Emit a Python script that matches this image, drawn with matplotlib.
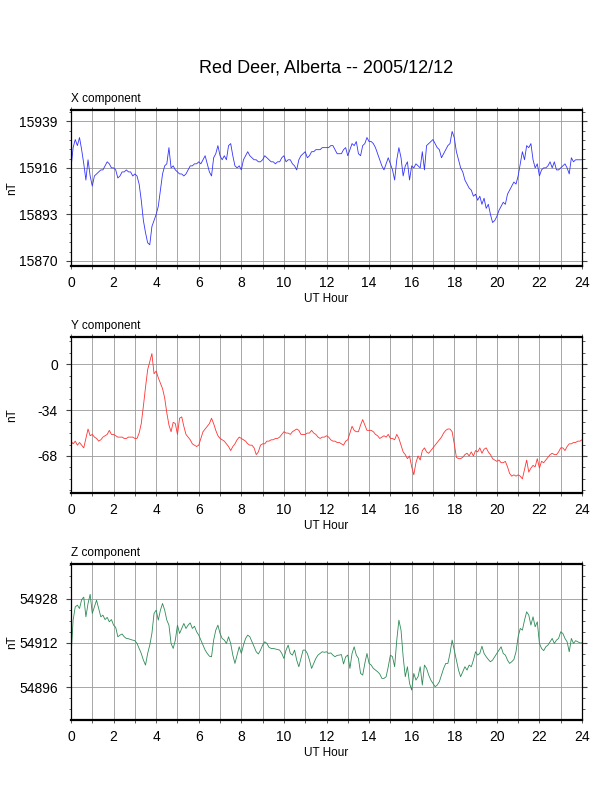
import numpy as np
import matplotlib
matplotlib.use("Agg")
import matplotlib.pyplot as plt
from matplotlib.ticker import MultipleLocator

plt.rcParams["font.family"] = ["Liberation Sans", "DejaVu Sans"]

# magnetometer readings, one value every 0.1 UT hour
hours = np.linspace(0, 24, 241)

x_comp = [
    15916, 15926, 15930, 15927, 15931, 15925, 15918, 15910, 15920, 15912,
    15907, 15912, 15913, 15914, 15915, 15915, 15917, 15919, 15918, 15916,
    15916, 15915, 15911, 15912, 15914, 15914, 15915, 15914, 15914, 15912,
    15913, 15912, 15908, 15900, 15890, 15884, 15879, 15878, 15887, 15890,
    15893, 15897, 15905, 15913, 15917, 15918, 15926, 15916, 15917, 15915,
    15914, 15913, 15913, 15912, 15913, 15915, 15917, 15917, 15918, 15918,
    15919, 15918, 15920, 15922, 15918, 15914, 15912, 15921, 15923, 15927,
    15922, 15920, 15922, 15920, 15927, 15928, 15922, 15917, 15916, 15917,
    15915, 15920, 15922, 15924, 15922, 15921, 15920, 15920, 15919, 15919,
    15920, 15922, 15921, 15920, 15919, 15919, 15918, 15919, 15919, 15921,
    15922, 15919, 15920, 15920, 15918, 15917, 15915, 15920, 15922, 15923,
    15924, 15921, 15922, 15924, 15924, 15925, 15925, 15925, 15926, 15926,
    15926, 15926, 15927, 15927, 15925, 15923, 15923, 15923, 15925, 15926,
    15922, 15925, 15928, 15927, 15929, 15923, 15922, 15927, 15928, 15931,
    15929, 15929, 15928, 15926, 15923, 15920, 15917, 15915, 15918, 15921,
    15918, 15915, 15910, 15920, 15926, 15921, 15912, 15917, 15919, 15910,
    15917, 15916, 15918, 15917, 15916, 15924, 15915, 15927, 15928, 15929,
    15930, 15928, 15926, 15925, 15921, 15923, 15925, 15927, 15928, 15934,
    15931, 15924, 15920, 15916, 15914, 15910, 15908, 15906, 15905, 15902,
    15903, 15900, 15902, 15898, 15901, 15896, 15898, 15893, 15889, 15890,
    15892, 15895, 15897, 15899, 15898, 15903, 15905, 15907, 15909, 15908,
    15912, 15918, 15924, 15920, 15927, 15926, 15928, 15920, 15916, 15918,
    15912, 15915, 15916, 15916, 15917, 15919, 15916, 15919, 15915, 15915,
    15916, 15917, 15918, 15916, 15913, 15921, 15919, 15920, 15920, 15920,
    15920,
]

y_comp = [
    -57, -59, -57, -60, -58, -60, -62, -55, -48, -53,
    -52, -54, -55, -57, -56, -54, -53, -52, -49, -52,
    -52, -53, -54, -54, -54, -55, -55, -54, -54, -54,
    -55, -55, -51, -44, -31, -17, -4, 2, 8, -7,
    -5, -10, -14, -18, -25, -36, -45, -50, -43, -44,
    -52, -40, -39, -46, -52, -54, -56, -59, -60, -61,
    -60, -55, -50, -48, -46, -44, -40, -44, -49, -53,
    -55, -56, -57, -59, -61, -64, -61, -59, -56, -54,
    -55, -56, -57, -59, -60, -60, -62, -67, -65, -60,
    -59, -59, -57, -57, -56, -56, -55, -55, -54, -52,
    -50, -51, -51, -52, -50, -49, -48, -49, -52, -52,
    -52, -51, -51, -49, -51, -52, -54, -55, -54, -54,
    -53, -54, -56, -57, -57, -58, -58, -59, -60, -57,
    -56, -51, -46, -49, -50, -50, -45, -41, -45, -49,
    -49, -49, -50, -52, -53, -55, -54, -53, -54, -52,
    -55, -55, -56, -52, -55, -60, -65, -67, -70, -68,
    -76, -82, -73, -68, -71, -64, -62, -65, -66, -64,
    -62, -60, -58, -56, -54, -51, -49, -48, -48, -50,
    -59, -69, -70, -70, -69, -67, -66, -68, -65, -68,
    -64, -65, -62, -66, -63, -62, -65, -67, -70, -71,
    -72, -71, -73, -73, -72, -76, -81, -83, -82, -83,
    -82, -83, -85, -78, -71, -80, -77, -75, -76, -70,
    -77, -72, -73, -71, -69, -67, -66, -67, -67, -65,
    -62, -62, -64, -61, -59, -59, -58, -58, -57, -57,
    -56,
]

z_comp = [
    54907.0, 54920.2, 54925.0, 54925.6, 54924.4, 54927.6, 54928.5, 54921.4, 54926.2, 54929.5,
    54922.6, 54925.0, 54927.4, 54924.4, 54921.4, 54922.0, 54920.4, 54921.2, 54919.6, 54920.4,
    54918.4, 54917.6, 54914.2, 54914.8, 54915.2, 54914.2, 54913.6, 54913.5, 54913.2, 54913.0,
    54912.8, 54911.8, 54910.0, 54908.2, 54905.8, 54904.0, 54908.2, 54911.2, 54915.4, 54922.6,
    54923.8, 54920.2, 54923.8, 54926.2, 54923.8, 54920.2, 54918.4, 54911.8, 54910.0, 54913.0,
    54918.4, 54915.4, 54917.2, 54919.0, 54917.2, 54918.4, 54919.2, 54917.2, 54918.0, 54916.0,
    54914.8, 54913.0, 54911.2, 54909.4, 54908.2, 54907.2, 54907.0, 54913.0, 54916.6, 54918.4,
    54915.4, 54913.6, 54913.0, 54911.8, 54914.2, 54911.8, 54907.6, 54904.6, 54907.6, 54910.6,
    54908.2, 54911.2, 54913.6, 54914.8, 54914.2, 54912.4, 54910.6, 54908.8, 54908.0, 54909.4,
    54911.2, 54912.4, 54911.8, 54910.4, 54910.0, 54910.0, 54909.8, 54909.6, 54909.4, 54908.2,
    54906.4, 54909.4, 54911.2, 54908.2, 54907.6, 54909.4, 54905.8, 54903.4, 54906.4, 54909.4,
    54909.4, 54908.2, 54905.8, 54902.8, 54904.6, 54906.4, 54907.6, 54908.2, 54908.8, 54908.6,
    54908.8, 54908.2, 54908.4, 54907.6, 54907.0, 54907.5, 54907.6, 54907.8, 54904.4, 54907.0,
    54907.6, 54902.8, 54908.2, 54910.6, 54907.6, 54906.4, 54901.0, 54900.4, 54904.6, 54908.2,
    54904.6, 54904.0, 54902.8, 54902.2, 54901.6, 54900.8, 54899.2, 54899.2, 54899.8, 54903.4,
    54907.6, 54907.0, 54903.4, 54913.0, 54920.2, 54916.6, 54907.0, 54899.8, 54903.4, 54897.4,
    54895.0, 54901.0, 54898.6, 54899.8, 54903.4, 54896.8, 54904.0, 54902.8, 54900.4, 54898.6,
    54897.4, 54896.2, 54896.8, 54898.0, 54900.4, 54902.8, 54904.6, 54904.6, 54908.2, 54913.0,
    54909.4, 54905.8, 54902.2, 54899.8, 54901.6, 54903.4, 54902.2, 54904.0, 54903.4, 54905.8,
    54908.8, 54907.6, 54908.2, 54910.8, 54908.2, 54907.0, 54906.0, 54905.2, 54905.8, 54907.0,
    54908.2, 54909.4, 54910.6, 54908.2, 54907.6, 54905.8, 54904.6, 54905.2, 54906.0, 54908.8,
    54914.2, 54917.2, 54916.6, 54920.2, 54923.2, 54922.0, 54918.4, 54921.4, 54917.8, 54919.6,
    54911.8, 54910.0, 54909.2, 54910.6, 54911.2, 54912.4, 54913.6, 54911.8, 54913.0, 54913.6,
    54916.0, 54915.4, 54913.6, 54912.4, 54908.8, 54913.6, 54911.8, 54912.8, 54912.4, 54912.0,
    54912.0,
]

panels = [
    ("X component", x_comp, "#3333ff", (15867.5, 15944.4), 23, 4.6),
    ("Y component", y_comp, "#ff3333", (-95.5, 20.0), 34, 8.5),
    ("Z component", z_comp, "#2e8b57", (54884.2, 54940.3), 16, 4),
]

fig = plt.figure(figsize=(6.12, 7.92), dpi=100)
fig.text(0.5335, 0.914, "Red Deer, Alberta -- 2005/12/12",
         ha="center", va="center", fontsize=13)

bottoms = [0.6641, 0.3775, 0.0909]
for (name, vals, color, ylim, major, minor), bottom in zip(panels, bottoms):
    ax = fig.add_axes([0.116, bottom, 0.835, 0.1965])
    ax.plot(hours, vals, color=color, lw=0.6)
    ax.set_xlim(0, 24)
    ax.set_ylim(*ylim)
    ax.xaxis.set_major_locator(MultipleLocator(2))
    ax.xaxis.set_minor_locator(MultipleLocator(1))
    ax.yaxis.set_major_locator(MultipleLocator(major))
    ax.yaxis.set_minor_locator(MultipleLocator(minor))
    ax.grid(True, axis="x", which="both", color="#999999", lw=0.6)
    ax.grid(True, axis="y", which="major", color="#999999", lw=0.6)
    ax.tick_params(axis="both", which="both", direction="out",
                   top=True, right=True, labelsize=10, color="#444444")
    ax.tick_params(axis="y", which="major", length=3.5, width=0.8, pad=6)
    ax.tick_params(axis="y", which="minor", length=1.8, width=0.6)
    ax.tick_params(axis="x", which="both", length=2.5, width=0.6, pad=5)
    ax.yaxis.set_major_formatter(plt.FuncFormatter(lambda v, p: f"{v:.0f}"))
    for side in ("top", "bottom"):
        ax.spines[side].set_linewidth(1.6)
    for side in ("left", "right"):
        ax.spines[side].set_linewidth(0.9)
    ax.set_xlabel("UT Hour", fontsize=8.5, labelpad=2)
    ax.set_ylabel("nT", fontsize=8.5)
    ax.yaxis.set_label_coords(-0.103, 0.5)
    ax.text(0.0, 1.035, name, transform=ax.transAxes, fontsize=8.5,
            ha="left", va="bottom")

fig.savefig("out.png", dpi=100)
